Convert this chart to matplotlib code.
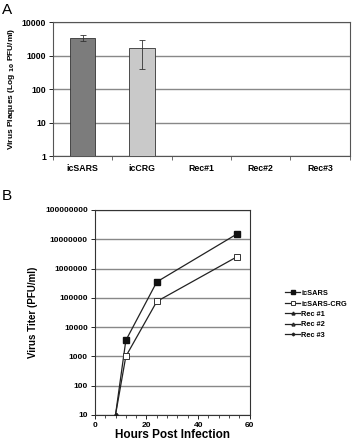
import numpy as np
import matplotlib
matplotlib.use("Agg")
import matplotlib.pyplot as plt

plt.rcParams['font.family'] = ['Liberation Sans', 'DejaVu Sans']
plt.rcParams['font.weight'] = 'bold'
plt.rcParams['axes.labelweight'] = 'bold'

# Panel A data
strains = ["icSARS", "icCRG", "Rec#1", "Rec#2", "Rec#3"]
plaques = [3400, 1700, np.nan, np.nan, np.nan]
err_low = [700, 1290, 0, 0, 0]
err_high = [600, 1300, 0, 0, 0]
bar_colors = ["#7c7c7c", "#c9c9c9", "#ffffff", "#ffffff", "#ffffff"]

# Panel B data
hours = [8, 12, 24, 55]
titer_icsars = [10, 3500, 350000, 15000000]
titer_crg = [10, 1000, 75000, 2500000]
rec_hours = [8]
rec1 = [10]
rec2 = [10]
rec3 = [10]

fig = plt.figure(figsize=(3.62, 4.41), dpi=100)

# ---- Panel A ----
axA = fig.add_axes([0.146, 0.646, 0.820, 0.304])
x = np.arange(len(strains))
axA.bar(x, plaques, width=0.43, color=bar_colors, edgecolor="#333333", linewidth=0.6,
        yerr=[err_low, err_high], error_kw=dict(ecolor="#333333", elinewidth=0.6, capsize=2, capthick=0.6),
        zorder=3)
axA.set_yscale("log")
axA.set_ylim(1, 10000)
axA.set_xlim(-0.5, 4.5)
axA.set_yticks([1, 10, 100, 1000, 10000])
axA.set_yticklabels(["1", "10", "100", "1000", "10000"])
axA.minorticks_off()
axA.set_xticks(x)
axA.set_xticklabels(strains)
axA.set_xticks(np.arange(-0.5, 5, 1), minor=True)
axA.tick_params(axis="x", which="major", length=0, labelsize=6.3, pad=6)
axA.tick_params(axis="x", which="minor", length=3, width=0.6, color="#555555")
axA.tick_params(axis="y", labelsize=6.3, length=3, width=0.6, pad=2)
axA.grid(axis="y", color="#888888", linewidth=1.0, zorder=0)
for s in axA.spines.values():
    s.set_color("#555555")
    s.set_linewidth(0.8)
axA.set_ylabel("Virus Plaques (Log $_{\\mathbf{10}}$ PFU/ml)", fontsize=6, labelpad=3)
fig.text(0.005, 0.978, "A", fontsize=11, fontweight="normal", va="center")

# ---- Panel B ----
axB = fig.add_axes([0.262, 0.059, 0.428, 0.465])
axB.plot(hours, titer_icsars, color="#222222", lw=0.9, marker="s", ms=4, markevery=[1, 2, 3],
         mfc="#111111", mec="#111111", label="icSARS", zorder=4)
axB.plot(hours, titer_crg, color="#222222", lw=0.9, marker="s", ms=4, markevery=[1, 2, 3],
         mfc="white", mec="#333333", mew=0.7, label="icSARS-CRG", zorder=4)
axB.plot(rec_hours, rec1, color="#222222", lw=0.9, marker="^", ms=3, mfc="#111111",
         label="Rec #1", zorder=3)
axB.plot(rec_hours, rec2, color="#222222", lw=0.9, marker="^", ms=3, mfc="white",
         label="Rec #2", zorder=3)
axB.plot(rec_hours, rec3, color="#222222", lw=0.9, marker="D", ms=2, mfc="#111111",
         label="Rec #3", zorder=3)
axB.set_yscale("log")
axB.set_ylim(10, 1e8)
axB.set_xlim(0, 60)
yt = [10, 100, 1000, 10000, 100000, 1000000, 10000000, 100000000]
axB.set_yticks(yt)
axB.set_yticklabels([str(v) for v in yt])
axB.minorticks_off()
axB.set_xticks([0, 20, 40, 60])
axB.set_xticks(np.arange(0, 61, 4), minor=True)
axB.tick_params(axis="both", labelsize=6, length=3, width=0.6, pad=2)
axB.tick_params(axis="x", which="minor", length=2, width=0.5)
axB.grid(axis="y", color="#888888", linewidth=1.0, zorder=0)
for s in axB.spines.values():
    s.set_color("#333333")
    s.set_linewidth(0.8)
axB.set_ylabel("Virus Titer (PFU/ml)", fontsize=7, labelpad=5)
axB.set_xlabel("Hours Post Infection", fontsize=8.5, labelpad=0)
axB.legend(loc="upper left", bbox_to_anchor=(1.23, 0.61), frameon=False, fontsize=5.3,
           handlelength=2.0, handletextpad=0.15, labelspacing=0.45, markerscale=0.7,
           borderpad=0, borderaxespad=0)
fig.text(0.005, 0.555, "B", fontsize=11, fontweight="normal", va="center")

fig.savefig("out.png", dpi=100, facecolor="white")
